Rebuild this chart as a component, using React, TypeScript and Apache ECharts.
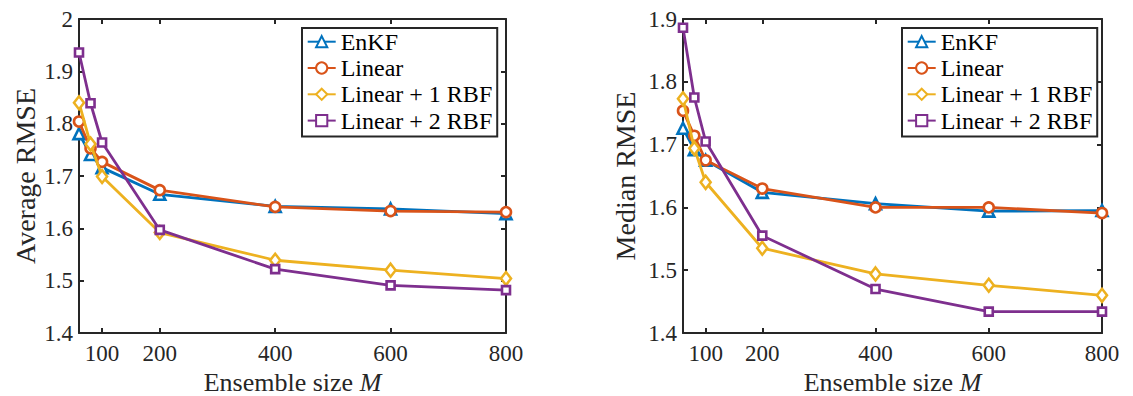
import React, { useEffect, useRef } from "react";
import * as echarts from "echarts";

// Ensemble sizes on the x axis
const ensembleSizes = [60, 80, 100, 200, 400, 600, 800];
const xTickValues = [100, 200, 400, 600, 800];

// Average RMSE per method
const avgEnKF = [1.781, 1.741, 1.716, 1.665, 1.642, 1.637, 1.628];
const avgLinear = [1.804, 1.753, 1.727, 1.673, 1.641, 1.633, 1.631];
const avgRBF1 = [1.840, 1.761, 1.699, 1.592, 1.539, 1.520, 1.504];
const avgRBF2 = [1.936, 1.839, 1.764, 1.597, 1.522, 1.491, 1.482];

// Median RMSE per method
const medEnKF = [1.726, 1.692, 1.675, 1.624, 1.606, 1.594, 1.595];
const medLinear = [1.754, 1.714, 1.675, 1.630, 1.600, 1.600, 1.591];
const medRBF1 = [1.773, 1.694, 1.640, 1.535, 1.494, 1.476, 1.460];
const medRBF2 = [1.886, 1.775, 1.705, 1.555, 1.470, 1.434, 1.434];

const seriesNames = ["EnKF", "Linear", "Linear + 1 RBF", "Linear + 2 RBF"];
const seriesColors = ["#0072BD", "#D95319", "#EDB120", "#7E2F8E"];
const seriesSymbols = ["triangle", "circle", "diamond", "rect"];
const seriesSymbolSizes: (number | number[])[] = [11, 10, [10, 13], 8];

const FONT = "Liberation Serif";
const INK = "#262626";

function pairs(ys: number[]) {
  return ensembleSizes.map((x, i) => [x, ys[i]]);
}

function makeSeries(gridIndex: number, values: number[][]) {
  return values.map((ys, k) => ({
    name: seriesNames[k],
    type: "line",
    xAxisIndex: gridIndex * 2,
    yAxisIndex: gridIndex * 2,
    data: pairs(ys),
    color: seriesColors[k],
    symbol: seriesSymbols[k],
    symbolSize: seriesSymbolSizes[k],
    showAllSymbol: true,
    lineStyle: { color: seriesColors[k], width: 2.8 },
    itemStyle: { color: "#ffffff", borderColor: seriesColors[k], borderWidth: 2.6 },
    emphasis: { disabled: true },
    z: 3 + k,
  }));
}

function xAxes(gridIndex: number) {
  const common = {
    type: "value",
    gridIndex,
    min: 60,
    max: 800,
    splitLine: { show: false },
    axisLine: { show: true, lineStyle: { color: INK, width: 2 } },
    axisTick: {
      show: true,
      inside: true,
      length: 5,
      customValues: xTickValues,
      lineStyle: { color: INK, width: 2 },
    },
  };
  return [
    {
      ...common,
      position: "bottom",
      axisLabel: {
        customValues: xTickValues,
        color: INK,
        fontFamily: FONT,
        fontSize: 23,
        margin: 9,
      },
      name: "Ensemble size {i|M}",
      nameLocation: "middle",
      nameGap: 45,
      nameTextStyle: {
        color: INK,
        fontFamily: FONT,
        fontSize: 26,
        lineHeight: 26,
        verticalAlign: "middle",
        rich: {
          i: { fontStyle: "italic", fontFamily: FONT, fontSize: 26, lineHeight: 26, color: INK },
        },
      },
    },
    {
      ...common,
      position: "top",
      axisLabel: { show: false },
    },
  ];
}

function yAxes(gridIndex: number, min: number, max: number, title: string, gap: number) {
  const common = {
    type: "value",
    gridIndex,
    min,
    max,
    interval: 0.1,
    splitLine: { show: false },
    axisLine: { show: true, lineStyle: { color: INK, width: 2 } },
    axisTick: { show: true, inside: true, length: 5, lineStyle: { color: INK, width: 2 } },
  };
  return [
    {
      ...common,
      position: "left",
      axisLabel: {
        color: INK,
        fontFamily: FONT,
        fontSize: 23,
        margin: 6,
        formatter: (v: number) => String(Math.round(v * 10) / 10),
      },
      name: title,
      nameLocation: "middle",
      nameGap: gap,
      nameTextStyle: { color: INK, fontFamily: FONT, fontSize: 28, verticalAlign: "middle" },
    },
    {
      ...common,
      position: "right",
      axisLabel: { show: false },
    },
  ];
}

function legendAt(left: number) {
  return {
    left,
    top: 28,
    orient: "vertical",
    data: seriesNames,
    itemWidth: 28,
    itemHeight: 14,
    itemGap: 2.3,
    padding: [1.7, 5, 4, 4.7],
    borderColor: INK,
    borderWidth: 2,
    backgroundColor: "#ffffff",
    selectedMode: false,
    textStyle: { color: "#000", fontFamily: FONT, fontSize: 24 },
  };
}

export default function App() {
  const ref = useRef<HTMLDivElement>(null);

  useEffect(() => {
    document.body.style.margin = "0";
    const chart = echarts.init(ref.current!, null, { renderer: "svg" });
    chart.setOption({
      animation: false,
      backgroundColor: "#ffffff",
      grid: [
        { left: 79, top: 19, width: 427, height: 314, outerBoundsMode: "none", containLabel: false },
        { left: 683, top: 19, width: 419, height: 314, outerBoundsMode: "none", containLabel: false },
      ],
      xAxis: [...xAxes(0), ...xAxes(1)],
      yAxis: [
        ...yAxes(0, 1.4, 2, "Average RMSE", 54),
        ...yAxes(1, 1.4, 1.9, "Median RMSE", 58),
      ],
      legend: [legendAt(302), legendAt(902)],
      series: [
        ...makeSeries(0, [avgEnKF, avgLinear, avgRBF1, avgRBF2]),
        ...makeSeries(1, [medEnKF, medLinear, medRBF1, medRBF2]),
      ],
    });
    return () => chart.dispose();
  }, []);

  return <div ref={ref} style={{ width: 1133, height: 396 }} />;
}
